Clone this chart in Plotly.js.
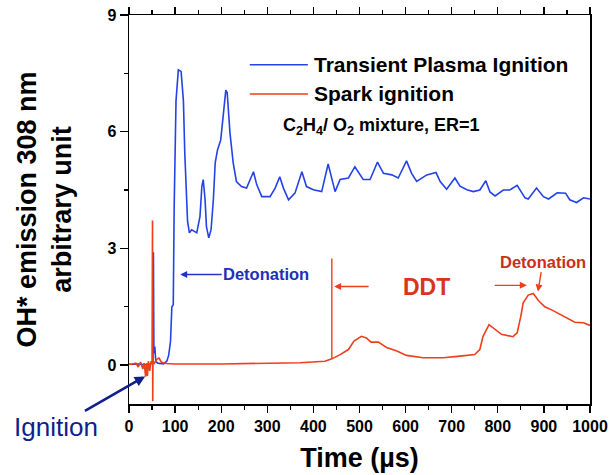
<!DOCTYPE html>
<html>
<head>
<meta charset="utf-8">
<script src="https://cdn.plot.ly/plotly-3.0.1.min.js"></script>
<style>html,body{margin:0;padding:0;background:#fff;}#chart{width:611px;height:475px;}</style>
</head>
<body>
<div id="chart"></div>
<script>
// Transient Plasma Ignition (blue)
const tpiTime = [0,20,40,50,52,53,54,56,58,62,75,82,86,90,93,96,98,102,107,113,118,121,127,131,136,147,154,158,161,165,168,173,178,183,187,192,199,205,210,213,219,226,233,244,255,270,277,288,306,317,327,335,346,360,375,385,400,418,432,447,458,476,490,508,523,539,552,570,584,602,613,624,646,666,675,689,707,718,733,747,761,774,783,794,812,826,842,859,866,884,899,910,929,947,956,971,986,1000];
const tpiValue = [0.02,0.03,0.0,0.05,0.1,2.9,0.3,0.48,0.1,0.05,0.03,0.1,0.25,0.6,1.5,1.55,4.07,6.8,7.59,7.55,6.8,5.45,3.7,3.4,3.48,3.4,3.82,4.59,4.77,4.25,3.56,3.27,3.48,4.25,5.2,5.53,5.79,6.48,7.07,7.0,5.97,5.2,4.72,4.59,4.55,4.97,4.64,4.33,4.33,4.55,4.84,4.55,4.25,4.42,4.97,4.59,4.51,4.46,5.17,4.46,4.77,4.81,5.1,4.77,4.77,5.22,4.93,4.89,4.81,5.25,4.93,4.72,4.89,4.95,4.72,4.52,4.81,4.6,4.51,4.46,4.5,4.74,4.45,4.35,4.5,4.5,4.62,4.3,4.27,4.55,4.33,4.27,4.43,4.42,4.25,4.18,4.3,4.27];
// Spark ignition (red)
const sparkTime = [0,5,15,20,25,30,33,36,38,40,42,45,48,50,51,51.5,52,55,60,65,70,80,100,200,300,371,425,440,458,476,488,504,515,525,541,559,581,602,638,682,718,750,761,768,781,794,808,833,842,850,855,866,877,888,902,920,942,967,986,1000];
const sparkValue = [0.02,0.02,0.05,-0.05,0.08,-0.1,0.05,-0.3,0.05,-0.28,0.1,-0.15,0.1,0.05,3.72,-0.93,0.1,0.05,0.15,0.18,0.08,0.04,0.03,0.03,0.04,0.06,0.1,0.16,0.27,0.4,0.62,0.74,0.7,0.59,0.59,0.45,0.36,0.25,0.19,0.19,0.23,0.27,0.4,0.74,1.04,0.92,0.79,0.73,0.83,1.26,1.6,1.8,1.84,1.66,1.5,1.4,1.26,1.1,1.09,1.02];

const seriesNames = ['Transient Plasma Ignition', 'Spark ignition'];
const yTicks = [0, 3, 6, 9];
const BLUE = '#2442e8', RED = '#ee3e1a', NAVY = '#0f1f8c';
const FONT = 'Liberation Sans, Arial, sans-serif';

const traces = [
  {x: tpiTime, y: tpiValue, type: 'scatter', mode: 'lines', name: seriesNames[0],
   line: {color: BLUE, width: 1.6}, showlegend: false},
  {x: sparkTime, y: sparkValue, type: 'scatter', mode: 'lines', name: seriesNames[1],
   line: {color: RED, width: 1.6}, showlegend: false}
];

const layout = {
  width: 611, height: 475,
  margin: {l: 129, r: 21, t: 15, b: 71},
  paper_bgcolor: '#fff', plot_bgcolor: '#fff',
  font: {family: FONT, color: '#000'},
  xaxis: {
    range: [0, 1000], dtick: 100, tick0: 0,
    showgrid: false, zeroline: false,
    showline: true, linecolor: '#000', linewidth: 1.5, mirror: 'ticks',
    ticks: 'outside', ticklen: 7, tickwidth: 1.3, tickcolor: '#000',
    minor: {dtick: 50, ticks: 'outside', ticklen: 4, tickwidth: 1.3, tickcolor: '#000'},
    tickfont: {family: FONT, size: 16, weight: 'bold', color: '#000'},
    title: {text: 'Time (µs)', font: {family: FONT, size: 27, weight: 'bold', color: '#000'}, standoff: 14}
  },
  yaxis: {
    range: [-1, 9], tickvals: yTicks, ticktext: yTicks.map(String),
    showgrid: false, zeroline: false,
    showline: true, linecolor: '#000', linewidth: 1.5, mirror: true,
    ticks: 'outside', ticklen: 8, tickwidth: 1.3, tickcolor: '#000',
    minor: {tickvals: [1.5, 4.5, 7.5], ticks: 'outside', ticklen: 4, tickwidth: 1.3, tickcolor: '#000'},
    tickfont: {family: FONT, size: 16, weight: 'bold', color: '#000'},
    title: {text: 'OH* emission 308 nm<br>arbitrary unit', font: {family: FONT, size: 27, weight: 'bold', color: '#000'}, standoff: 28}
  },
  shapes: [
    // legend samples
    {type: 'line', xref: 'x', yref: 'y', x0: 262, x1: 388, y0: 7.72, y1: 7.72, line: {color: BLUE, width: 1.6}},
    {type: 'line', xref: 'x', yref: 'y', x0: 262, x1: 388, y0: 6.97, y1: 6.97, line: {color: RED, width: 1.6}},
    // DDT start marker
    {type: 'line', xref: 'x', yref: 'y', x0: 440, x1: 440, y0: 0.16, y1: 2.74, line: {color: RED, width: 1.4}}
  ],
  annotations: [
    {x: 397, y: 7.72, xref: 'x', yref: 'y', xanchor: 'left', yanchor: 'middle', showarrow: false,
     text: seriesNames[0], font: {family: FONT, size: 21, weight: 'bold', color: '#000'}},
    {x: 397, y: 6.97, xref: 'x', yref: 'y', xanchor: 'left', yanchor: 'middle', showarrow: false,
     text: seriesNames[1], font: {family: FONT, size: 21, weight: 'bold', color: '#000'}},
    {x: 548, y: 6.13, xref: 'x', yref: 'y', showarrow: false,
     text: 'C<sub>2</sub>H<sub>4</sub>/ O<sub>2</sub> mixture, ER=1', font: {family: FONT, size: 18, weight: 'bold', color: '#000'}},
    // blue detonation
    {x: 111, y: 2.33, xref: 'x', yref: 'y', ax: 86, ay: 0, showarrow: true, arrowhead: 2, arrowsize: 1, arrowwidth: 1.4, arrowcolor: '#2035c8',
     text: 'Detonation', font: {family: FONT, size: 16.5, weight: 'bold', color: '#1e2fb8'}},
    // DDT
    {x: 646, y: 2.02, xref: 'x', yref: 'y', showarrow: false,
     text: 'DDT', font: {family: FONT, size: 23, weight: 'bold', color: '#d8361a'}},
    {x: 445, y: 2.02, xref: 'x', yref: 'y', axref: 'x', ayref: 'y', ax: 523, ay: 2.02, showarrow: true, text: '',
     arrowhead: 2, arrowsize: 1, arrowwidth: 1.4, arrowcolor: RED},
    {x: 863, y: 2.05, xref: 'x', yref: 'y', axref: 'x', ayref: 'y', ax: 790, ay: 2.05, showarrow: true, text: '',
     arrowhead: 2, arrowsize: 1, arrowwidth: 1.4, arrowcolor: RED},
    // red detonation
    {x: 887, y: 1.89, xref: 'x', yref: 'y', ax: 5, ay: -30, showarrow: true, arrowhead: 2, arrowsize: 1, arrowwidth: 1.4, arrowcolor: RED,
     text: 'Detonation', font: {family: FONT, size: 16.5, weight: 'bold', color: '#c8301a'}},
    // ignition (text with arrow to the ignition point)
    {x: 35, y: -0.29, xref: 'x', yref: 'y', ax: -89, ay: 51, showarrow: true,
     arrowhead: 2, arrowsize: 0.8, arrowwidth: 2.6, arrowcolor: NAVY,
     text: 'Ignition', font: {family: FONT, size: 26, color: NAVY}}
  ]
};

Plotly.newPlot('chart', traces, layout, {displayModeBar: false, staticPlot: true});
</script>
</body>
</html>
